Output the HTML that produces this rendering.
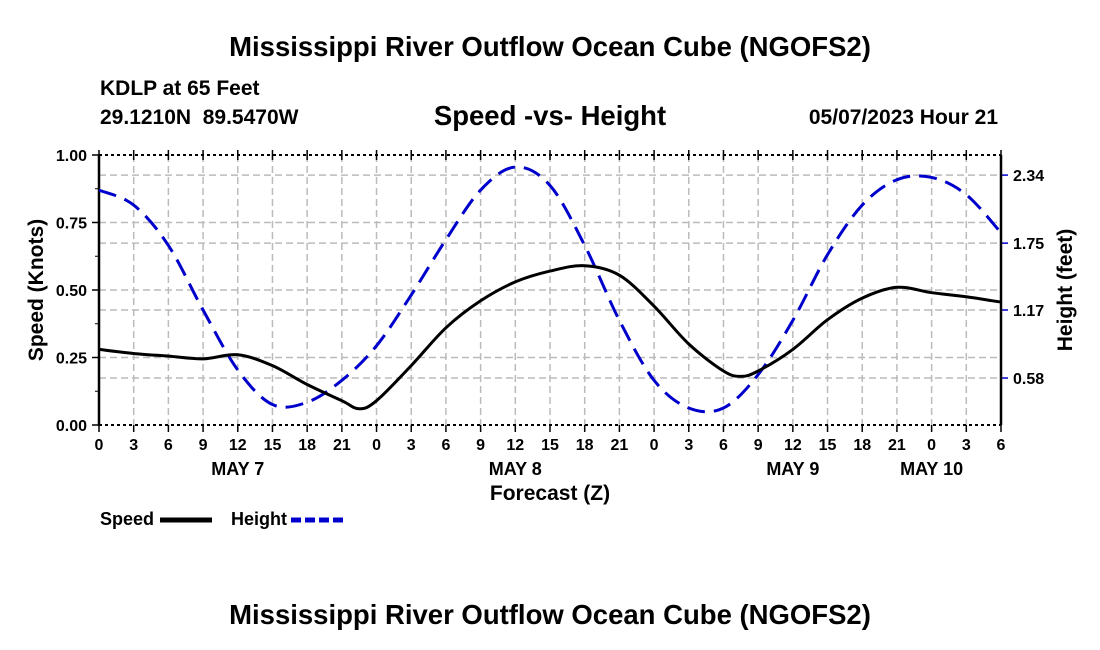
<!DOCTYPE html>
<html><head><meta charset="utf-8"><style>
body{margin:0;background:#fff;}
svg{display:block;font-family:"Liberation Sans",Arial,sans-serif;font-weight:bold;}
</style></head><body>
<svg id="chart" width="1100" height="650">
<text x="550" y="56" font-size="27.5" text-anchor="middle">Mississippi River Outflow Ocean Cube (NGOFS2)</text>
<text x="100" y="95" font-size="21">KDLP at 65 Feet</text>
<text x="100" y="124" font-size="21" xml:space="preserve">29.1210N  89.5470W</text>
<text x="550" y="125" font-size="27.5" text-anchor="middle">Speed -vs- Height</text>
<text x="998" y="124" font-size="21" text-anchor="end">05/07/2023 Hour 21</text>
<g id="grid"></g><g id="axes"></g><g id="series"></g>
<text x="550" y="500" font-size="21" text-anchor="middle">Forecast (Z)</text>
<text transform="translate(43,290) rotate(-90)" font-size="21" text-anchor="middle">Speed (Knots)</text>
<text transform="translate(1072,290) rotate(-90)" font-size="21" text-anchor="middle">Height (feet)</text>
<g><text x="100" y="525" font-size="18">Speed</text><line x1="160" y1="520" x2="212" y2="520" stroke="#000" stroke-width="5"/></g>
<g><text x="231" y="525" font-size="18">Height</text><line x1="291" y1="520" x2="343" y2="520" stroke="#0000cc" stroke-width="5" stroke-dasharray="10,4"/></g>
<text x="550" y="624" font-size="27.5" text-anchor="middle">Mississippi River Outflow Ocean Cube (NGOFS2)</text>
</svg>
<script>
const hours=[0,3,6,9,12,15,18,21,24,27,30,33,36,39,42,45,48,51,54,57,60,63,66,69,72,75,78];
const heightVals=[2.21,2.08,1.73,1.17,0.65,0.35,0.37,0.56,0.86,1.30,1.78,2.21,2.41,2.25,1.73,1.08,0.56,0.32,0.32,0.61,1.08,1.65,2.08,2.30,2.32,2.17,1.84];
const speedHours=[0,3,6,9,12,15,18,21,22.5,24,27,30,33,36,39,42,45,48,51,54,55.5,57,60,63,66,69,72,75,78];
const speedVals=[0.28,0.265,0.255,0.245,0.26,0.22,0.15,0.09,0.06,0.09,0.22,0.36,0.46,0.53,0.57,0.59,0.555,0.44,0.30,0.20,0.18,0.20,0.28,0.39,0.47,0.51,0.49,0.475,0.455];
const speedTicks=[0,0.25,0.5,0.75,1.0];
const heightTicks=[0.58,1.17,1.75,2.34];
const tickLabels=["0","3","6","9","12","15","18","21","0","3","6","9","12","15","18","21","0","3","6","9","12","15","18","21","0","3","6"];
const dayLabels=[["MAY 7",12],["MAY 8",36],["MAY 9",60],["MAY 10",72]];
const PL=99,PR=1001,PT=155,PB=425;
const xs=t=>PL+t/78*(PR-PL);
const ys=v=>PB-v*(PB-PT);
const yh=h=>444.9-h*115.3;
const NS="http://www.w3.org/2000/svg";
function mk(tag,attrs,parent){const e=document.createElementNS(NS,tag);for(const k in attrs)e.setAttribute(k,attrs[k]);parent.appendChild(e);return e;}
const gridG=document.getElementById('grid'),axesG=document.getElementById('axes'),seriesG=document.getElementById('series');
const gs={stroke:"#bbb","stroke-width":1.5,"stroke-dasharray":"7,4"};
hours.forEach((h,i)=>{
  const x=xs(h);
  if(i>0&&i<hours.length-1){const g=mk('line',Object.assign({x1:x,x2:x,y1:PT,y2:PB},gs),gridG);}
  const tk=mk('line',{x1:x,x2:x,y1:PB,y2:PB+7,stroke:"#000","stroke-width":1.5},axesG);
  
  const tk2=mk('line',{x1:x,x2:x,y1:PT-5,y2:PT+5,stroke:"#000","stroke-width":1.5},axesG);
  
  const t=mk('text',{x:x,y:450,"font-size":16,"text-anchor":"middle"},axesG);t.textContent=tickLabels[i];
  
});
dayLabels.forEach(d=>{const t=mk('text',{x:xs(d[1]),y:475,"font-size":18,"text-anchor":"middle"},axesG);t.textContent=d[0];
  });
speedTicks.forEach(v=>{const y=ys(v);
  if(v>0&&v<1){const g=mk('line',Object.assign({x1:PL,x2:PR,y1:y,y2:y},gs),gridG);}
  const tk=mk('line',{x1:PL-7,x2:PL,y1:y,y2:y,stroke:"#000","stroke-width":1.5},axesG);
  
  const t=mk('text',{x:PL-12,y:y+6,"font-size":16,"text-anchor":"end"},axesG);t.textContent=v.toFixed(2);
  });
for(let v=0.125;v<1;v+=0.25){const y=ys(v);const m=mk('line',{x1:PL-4,x2:PL,y1:y,y2:y,stroke:"#000","stroke-width":1},axesG);
  }
heightTicks.forEach(v=>{const y=yh(v);
  const g=mk('line',Object.assign({x1:PL,x2:PR,y1:y,y2:y},gs),gridG);
  const tk=mk('line',{x1:PR,x2:PR+7,y1:y,y2:y,stroke:"#0000cc","stroke-width":1.5},axesG);
  
  const t=mk('text',{x:PR+12,y:y+6,"font-size":16},axesG);t.textContent=v.toFixed(2);
  });
const topB=mk('line',{x1:PL,x2:PR,y1:PT,y2:PT,stroke:"#000","stroke-width":2,"stroke-dasharray":"3,3"},axesG);
const botB=mk('line',{x1:PL,x2:PR,y1:PB,y2:PB,stroke:"#000","stroke-width":2,"stroke-dasharray":"3,3"},axesG);
const lax=mk('line',{x1:PL,x2:PL,y1:PT,y2:PB,stroke:"#000","stroke-width":2.5},axesG);
const rax=mk('line',{x1:PR,x2:PR,y1:PT,y2:PB,stroke:"#000","stroke-width":2.5},axesG);
function smooth(pts){let d="M"+pts[0][0]+","+pts[0][1];
  for(let i=0;i<pts.length-1;i++){const p0=pts[Math.max(0,i-1)],p1=pts[i],p2=pts[i+1],p3=pts[Math.min(pts.length-1,i+2)];
    d+=" C"+(p1[0]+(p2[0]-p0[0])/6)+","+(p1[1]+(p2[1]-p0[1])/6)+" "+(p2[0]-(p3[0]-p1[0])/6)+","+(p2[1]-(p3[1]-p1[1])/6)+" "+p2[0]+","+p2[1];}
  return d;}
const hp=mk('path',{d:smooth(hours.map((h,i)=>[xs(h),yh(heightVals[i])])),fill:"none",stroke:"#0000cc","stroke-width":3,"stroke-dasharray":"18,9"},seriesG);

const sp=mk('path',{d:smooth(speedHours.map((h,i)=>[xs(h),ys(speedVals[i])])),fill:"none",stroke:"#000","stroke-width":3},seriesG);

</script>
</body></html>
